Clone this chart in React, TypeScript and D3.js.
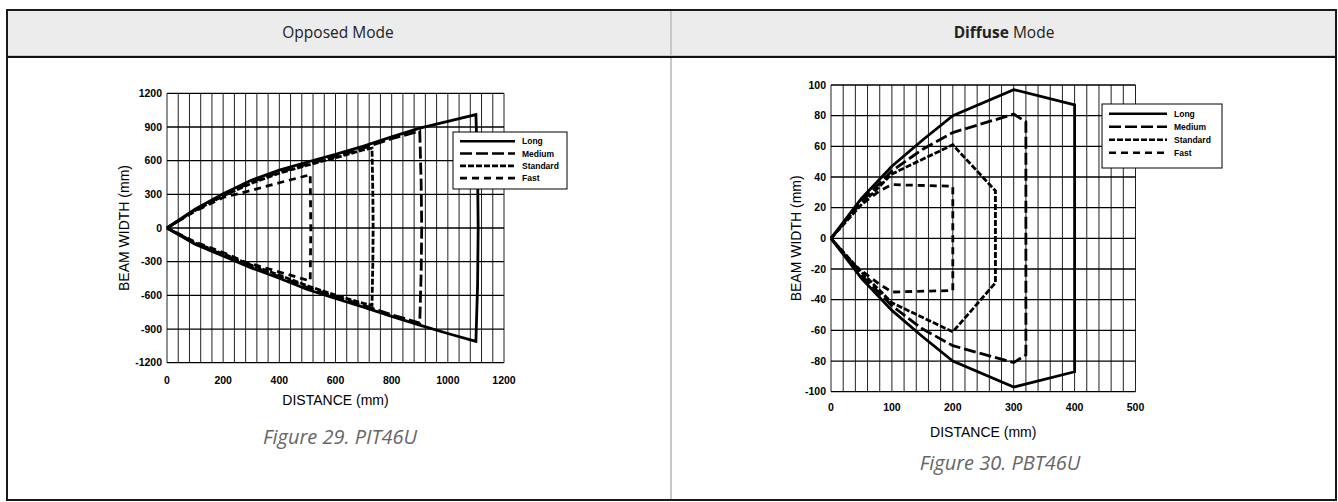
import React from "react";
import * as d3 from "d3";

type Pt = [number, number];

// ---------- Data: Opposed mode (PIT46U) ----------
const opposedLong: Pt[] = [
  [0, 0], [100, 168], [200, 305], [300, 425], [400, 515], [500, 588], [600, 656], [700, 730],
  [800, 812], [900, 890], [1000, 950], [1100, 1010], [1106, 500], [1108, 0], [1106, -500],
  [1100, -1010], [1000, -940], [900, -866], [800, -788], [700, -705], [600, -628], [500, -548],
  [400, -448], [300, -355], [200, -250], [100, -145], [0, 0],
];
const opposedMedium: Pt[] = [
  [0, 0], [100, 160], [200, 292], [300, 408], [400, 498], [500, 568], [600, 636], [700, 712],
  [800, 795], [900, 865], [905, 400], [907, 0], [905, -400], [900, -848], [800, -772],
  [700, -690], [600, -610], [500, -530], [400, -432], [300, -340], [200, -238], [100, -138], [0, 0],
];
const opposedStandard: Pt[] = [
  [0, 0], [100, 156], [200, 285], [300, 398], [400, 488], [500, 560], [600, 625], [700, 697],
  [730, 712], [733, 300], [734, 0], [733, -300], [730, -688], [700, -672], [600, -598],
  [500, -515], [400, -420], [300, -330], [200, -230], [100, -132], [0, 0],
];
const opposedFast: Pt[] = [
  [0, 0], [100, 150], [200, 272], [300, 335], [400, 403], [500, 468], [510, 478], [512, 0],
  [510, -470], [500, -465], [400, -392], [280, -305], [200, -218], [100, -125], [0, 0],
];

// ---------- Data: Diffuse mode (PBT46U) ----------
const diffuseLong: Pt[] = [
  [0, 0], [50, 26], [100, 47], [150, 64], [200, 80], [300, 97], [400, 87],
  [400, -87], [300, -97], [200, -80], [150, -64], [100, -47], [50, -26], [0, 0],
];
const diffuseMedium: Pt[] = [
  [0, 0], [50, 24], [100, 44], [150, 58], [200, 69], [300, 81], [320, 76],
  [320, -76], [300, -81], [200, -70], [150, -59], [100, -44], [50, -24], [0, 0],
];
const diffuseStandard: Pt[] = [
  [0, 0], [50, 22], [100, 42], [200, 61], [270, 31],
  [270, -29], [200, -61], [100, -42], [50, -22], [0, 0],
];
const diffuseFast: Pt[] = [
  [0, 0], [40, 19], [80, 31], [100, 35], [200, 34],
  [200, -34], [100, -35], [80, -30], [40, -18], [0, 0],
];

const seriesNames = ["Long", "Medium", "Standard", "Fast"];
const seriesDash = ["", "12,4", "6,2", "7,5"];

const opposedXTicks = [0, 200, 400, 600, 800, 1000, 1200];
const opposedYTicks = [1200, 900, 600, 300, 0, -300, -600, -900, -1200];
const diffuseXTicks = [0, 100, 200, 300, 400, 500];
const diffuseYTicks = [100, 80, 60, 40, 20, 0, -20, -40, -60, -80, -100];

const AXIS_FONT = "'Liberation Sans', Arial, sans-serif";
const UI_FONT = "'Open Sans', 'Noto Sans', sans-serif";

interface ChartProps {
  xDomain: [number, number];
  yDomain: [number, number];
  xRange: [number, number];
  yRange: [number, number];
  xGridStep: number;
  yGridStep: number;
  xTicks: number[];
  yTicks: number[];
  series: Pt[][];
  legend: { x: number; y: number; w: number; h: number; rowGap: number; lineLen: number };
  yTitleX: number;
  xTitleY: number;
  xTickY: number;
}

function Chart(p: ChartProps) {
  const x = d3.scaleLinear().domain(p.xDomain).range(p.xRange);
  const y = d3.scaleLinear().domain(p.yDomain).range(p.yRange);
  const xs = d3.range(p.xDomain[0], p.xDomain[1] + 0.001, p.xGridStep);
  const ys = d3.range(p.yDomain[0], p.yDomain[1] + 0.001, p.yGridStep);
  const line = d3.line<Pt>().x((d) => x(d[0])).y((d) => y(d[1]));
  const [x0, x1] = p.xRange;
  const [yb, yt] = p.yRange;
  const L = p.legend;
  const order = p.series.map((_, i) => i).reverse();
  return (
    <g>
      {xs.map((v, i) => (
        <line key={"vx" + i} x1={x(v)} x2={x(v)} y1={yt} y2={yb} stroke="#222" strokeWidth={1} />
      ))}
      {ys.map((v, i) => (
        <line key={"hy" + i} x1={x0} x2={x1} y1={y(v)} y2={y(v)} stroke="#000" strokeWidth={1.3} />
      ))}
      {order.map((i) => (
        <path
          key={"s" + i}
          d={line(p.series[i]) || ""}
          fill="none"
          stroke="#000"
          strokeWidth={2.8}
          strokeDasharray={seriesDash[i] || undefined}
          strokeLinejoin="miter"
        />
      ))}
      {p.yTicks.map((v) => (
        <text
          key={"yt" + v}
          x={x0 - 5}
          y={y(v)}
          dy="0.35em"
          textAnchor="end"
          fontFamily={AXIS_FONT}
          fontWeight="bold"
          fontSize={10.5}
          fill="#000"
        >
          {v}
        </text>
      ))}
      {p.xTicks.map((v) => (
        <text
          key={"xt" + v}
          x={x(v)}
          y={p.xTickY}
          dy="0.35em"
          textAnchor="middle"
          fontFamily={AXIS_FONT}
          fontWeight="bold"
          fontSize={10.5}
          fill="#000"
        >
          {v}
        </text>
      ))}
      <text
        x={(x0 + x1) / 2}
        y={p.xTitleY}
        dy="0.35em"
        textAnchor="middle"
        fontFamily={AXIS_FONT}
        fontSize={14}
        fill="#000"
      >
        DISTANCE (mm)
      </text>
      <text
        transform={`translate(${p.yTitleX},${(yt + yb) / 2}) rotate(-90)`}
        dy="0.35em"
        textAnchor="middle"
        fontFamily={AXIS_FONT}
        fontSize={14}
        fill="#000"
      >
        BEAM WIDTH (mm)
      </text>
      <rect x={L.x} y={L.y} width={L.w} height={L.h} fill="#fff" stroke="#000" strokeWidth={1} />
      {seriesNames.map((n, i) => {
        const ly = L.y + L.rowGap * (i + 0.75);
        return (
          <g key={"lg" + i}>
            <line
              x1={L.x + 7}
              x2={L.x + 7 + L.lineLen}
              y1={ly}
              y2={ly}
              stroke="#000"
              strokeWidth={2.6}
              strokeDasharray={seriesDash[i] || undefined}
            />
            <text
              x={L.x + 7 + L.lineLen + 7}
              y={ly}
              dy="0.35em"
              fontFamily={AXIS_FONT}
              fontWeight="bold"
              fontSize={8.5}
              fill="#000"
            >
              {n}
            </text>
          </g>
        );
      })}
    </g>
  );
}

export default function App() {
  const W = 1338;
  const H = 502;
  return (
    <svg
      width={W}
      height={H}
      viewBox={`0 0 ${W} ${H}`}
      style={{ position: "absolute", left: 0, top: 0, background: "#fff" }}
    >
      {/* table */}
      <rect x={6} y={9} width={1331} height={47} fill="#ececec" />
      <line x1={671} x2={671} y1={9} y2={501} stroke="#c8c8c8" strokeWidth={2} />
      <line x1={6} x2={1337} y1={55.5} y2={55.5} stroke="#c8c8c8" strokeWidth={1} />
      <line x1={6} x2={1337} y1={57} y2={57} stroke="#111" strokeWidth={2} />
      <rect x={7} y={10} width={1329} height={490} fill="none" stroke="#1a1a1a" strokeWidth={2} />
      <text x={338} y={32.5} dy="0.35em" textAnchor="middle" fontFamily={UI_FONT} fontSize={15.5} fill="#222">
        Opposed Mode
      </text>
      <text x={1004} y={32.5} dy="0.35em" textAnchor="middle" fontFamily={UI_FONT} fontSize={15.5} fill="#222">
        <tspan fontWeight="bold">Diffuse</tspan> Mode
      </text>

      <Chart
        xDomain={[0, 1200]}
        yDomain={[-1200, 1200]}
        xRange={[167, 504]}
        yRange={[362.7, 93.3]}
        xGridStep={40}
        yGridStep={300}
        xTicks={opposedXTicks}
        yTicks={opposedYTicks}
        series={[opposedLong, opposedMedium, opposedStandard, opposedFast]}
        legend={{ x: 453, y: 132, w: 114, h: 57, rowGap: 12.3, lineLen: 55 }}
        yTitleX={124}
        xTitleY={400}
        xTickY={380}
      />
      <Chart
        xDomain={[0, 500]}
        yDomain={[-100, 100]}
        xRange={[831, 1135.5]}
        yRange={[391.7, 85]}
        xGridStep={20}
        yGridStep={20}
        xTicks={diffuseXTicks}
        yTicks={diffuseYTicks}
        series={[diffuseLong, diffuseMedium, diffuseStandard, diffuseFast]}
        legend={{ x: 1102, y: 104, w: 120, h: 64, rowGap: 13, lineLen: 58 }}
        yTitleX={796}
        xTitleY={432}
        xTickY={407}
      />

      <text
        x={340}
        y={437}
        dy="0.35em"
        textAnchor="middle"
        fontFamily={UI_FONT}
        fontStyle="italic"
        fontSize={20}
        fill="#666"
      >
        Figure 29. PIT46U
      </text>
      <text
        x={1000}
        y={463}
        dy="0.35em"
        textAnchor="middle"
        fontFamily={UI_FONT}
        fontStyle="italic"
        fontSize={20}
        fill="#666"
      >
        Figure 30. PBT46U
      </text>
    </svg>
  );
}
